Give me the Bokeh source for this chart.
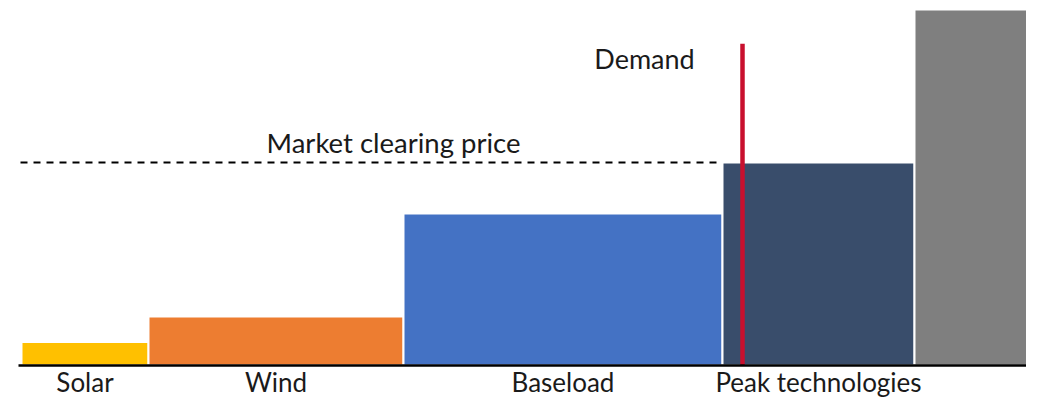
from bokeh.plotting import figure
from bokeh.models import Range1d, ColumnDataSource
from bokeh.core.properties import value
from bokeh.embed import file_html
from bokeh.resources import INLINE
import numpy as np

# ---- data ----
technologies = ["Solar", "Wind", "Baseload", "Peak technologies", ""]
capacity = [1.27, 2.55, 3.19, 1.92, 1.26]          # width of each block
marginal_cost = [2.4, 5.0, 15.5, 20.7, 36.3]        # height of each block
colors = ["#FFC000", "#ED7D31", "#4472C4", "#394D6B", "#7F7F7F"]
demand = 7.21
demand_line_top = 32.8
clearing_price = 20.7

right = np.cumsum(capacity)
left = right - np.array(capacity)
centers = (left + right) / 2

FONT = value("Lato")

p = figure(width=1026, height=398, output_backend="svg", toolbar_location=None,
           x_range=Range1d(-0.21, 10.05), y_range=Range1d(-3.364, 37.21),
           min_border=0, outline_line_color=None)
p.axis.visible = False
p.grid.visible = False

src = ColumnDataSource(dict(left=left, right=right, bottom=[0] * len(capacity),
                            top=marginal_cost, color=colors))
p.quad(left="left", right="right", bottom="bottom", top="top", source=src,
       fill_color="color", line_color="white", line_width=2)

# market clearing price dashed line (to start of the price-setting block)
p.segment(x0=[-0.01], y0=[clearing_price], x1=[left[3]], y1=[clearing_price],
          line_color="black", line_width=2, line_dash="7 6")

# demand line
p.segment(x0=[demand], y0=[0], x1=[demand], y1=[demand_line_top],
          line_color="#C8102E", line_width=4.5)

# baseline axis
p.segment(x0=[-0.03], y0=[0], x1=[10.3], y1=[0], line_color="black", line_width=2.5)

# category labels
p.text(x=list(centers[:4]), y=[-1.7] * 4, text=technologies[:4],
       text_font=FONT, text_font_size="26px", text_align="center",
       text_baseline="alphabetic", text_color="#1a1a1a")

p.text(x=[6.23], y=[31.3], text=["Demand"], text_font=FONT, text_font_size="27px",
       text_align="center", text_baseline="alphabetic", text_color="#1a1a1a")
p.text(x=[3.72], y=[22.73], text=["Market clearing price"], text_font=FONT,
       text_font_size="27.5px", text_align="center", text_baseline="alphabetic",
       text_color="#1a1a1a")

open("out.html", "w").write(file_html(p, INLINE))
